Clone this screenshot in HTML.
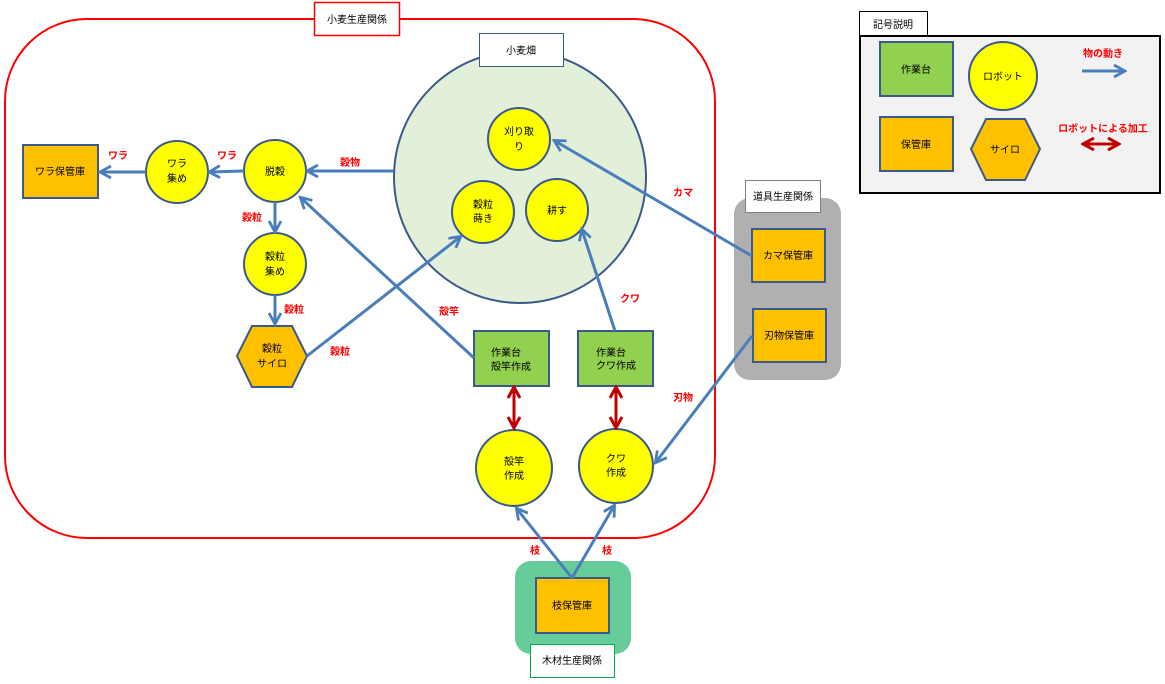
<!DOCTYPE html>
<html><head><meta charset="utf-8"><style>
html,body{margin:0;padding:0;background:#fff;}
svg{display:block;}
text{font-family:"Liberation Sans","Noto Sans CJK JP",sans-serif;font-size:10px;fill:#000;}
.r{fill:#ff0000;font-weight:bold;font-size:10px;}
.bl{stroke:#4a7ebb;stroke-width:3;fill:none;}
.rd{stroke:#c00000;stroke-width:3;fill:none;}
.nd{stroke:#3a5a8c;stroke-width:2;}
</style></head><body>
<svg width="1165" height="684" viewBox="0 0 1165 684" xmlns="http://www.w3.org/2000/svg">
<defs>
<marker id="a" markerWidth="14" markerHeight="14" refX="11" refY="7" orient="auto" markerUnits="userSpaceOnUse" viewBox="0 0 14 14">
<polyline points="1,1 12,7 1,13" fill="none" stroke="#4a7ebb" stroke-width="2.8"/></marker>
<marker id="ra" markerWidth="14" markerHeight="14" refX="11" refY="7" orient="auto-start-reverse" markerUnits="userSpaceOnUse" viewBox="0 0 14 14">
<polyline points="1,1 12,7 1,13" fill="none" stroke="#c00000" stroke-width="3"/></marker>
</defs>

<rect x="5" y="19" width="710" height="519" rx="82" ry="82" fill="none" stroke="#ff0000" stroke-width="2"/>
<rect x="314.5" y="2.5" width="85" height="33" fill="#fff" stroke="#ff0000" stroke-width="1.5"/>
<text x="357" y="23" text-anchor="middle">小麦生産関係</text>

<circle cx="520" cy="177" r="126" fill="#e2efd9" stroke="#3a5a8c" stroke-width="2"/>
<rect x="479.5" y="33.5" width="84" height="33" fill="#fff" stroke="#3a5a8c" stroke-width="1"/>
<text x="521" y="54" text-anchor="middle">小麦畑</text>

<circle class="nd" cx="519" cy="139" r="31" fill="#ffff00"/>
<text x="519" y="135" text-anchor="middle">刈り取</text><text x="519" y="150" text-anchor="middle">り</text>
<circle class="nd" cx="483" cy="212" r="31" fill="#ffff00"/>
<text x="483" y="208" text-anchor="middle">穀粒</text><text x="483" y="222" text-anchor="middle">蒔き</text>
<circle class="nd" cx="557" cy="210" r="31" fill="#ffff00"/>
<text x="557" y="214" text-anchor="middle">耕す</text>

<circle class="nd" cx="275" cy="171" r="31" fill="#ffff00"/>
<text x="275" y="175" text-anchor="middle">脱穀</text>
<circle class="nd" cx="177" cy="172" r="31" fill="#ffff00"/>
<text x="177" y="167" text-anchor="middle">ワラ</text><text x="177" y="182" text-anchor="middle">集め</text>
<rect class="nd" x="23" y="145" width="75" height="53" fill="#ffc000"/>
<text x="60" y="175" text-anchor="middle">ワラ保管庫</text>
<circle class="nd" cx="275" cy="264" r="31" fill="#ffff00"/>
<text x="275" y="260" text-anchor="middle">穀粒</text><text x="275" y="275" text-anchor="middle">集め</text>
<polygon class="nd" points="237,356 252,326 292,326 307,356 292,387 252,387" fill="#ffc000"/>
<text x="272" y="352" text-anchor="middle">穀粒</text><text x="272" y="367" text-anchor="middle">サイロ</text>

<rect class="nd" x="474" y="331" width="75" height="55" fill="#92d050"/>
<text x="491" y="356">作業台</text><text x="491" y="370">殻竿作成</text>
<rect class="nd" x="578" y="331" width="75" height="55" fill="#92d050"/>
<text x="596" y="356">作業台</text><text x="596" y="369">クワ作成</text>

<circle class="nd" cx="514" cy="468" r="38" fill="#ffff00"/>
<text x="514" y="465" text-anchor="middle">殻竿</text><text x="514" y="479" text-anchor="middle">作成</text>
<circle class="nd" cx="616" cy="466" r="37" fill="#ffff00"/>
<text x="616" y="462" text-anchor="middle">クワ</text><text x="616" y="476" text-anchor="middle">作成</text>

<rect x="515" y="561" width="116" height="93" rx="16" fill="#66cc99"/>
<rect class="nd" x="536" y="578" width="73" height="55" fill="#ffc000"/>
<text x="572" y="609" text-anchor="middle">枝保管庫</text>
<rect x="530.5" y="644.5" width="84" height="33" fill="#fff" stroke="#00b050" stroke-width="1"/>
<text x="572" y="664" text-anchor="middle">木材生産関係</text>

<rect x="734" y="198" width="107" height="182" rx="16" fill="#b0b0b0"/>
<rect x="745.5" y="180.5" width="75" height="32" fill="#fff" stroke="#808080" stroke-width="1"/>
<text x="783" y="200" text-anchor="middle">道具生産関係</text>
<rect class="nd" x="752" y="229" width="73" height="53" fill="#ffc000"/>
<text x="788" y="259" text-anchor="middle">カマ保管庫</text>
<rect class="nd" x="753" y="309" width="73" height="53" fill="#ffc000"/>
<text x="789" y="339" text-anchor="middle">刃物保管庫</text>

<line class="bl" x1="393" y1="171" x2="308" y2="171" marker-end="url(#a)"/>
<line class="bl" x1="244" y1="171" x2="210" y2="172" marker-end="url(#a)"/>
<line class="bl" x1="146" y1="172" x2="101" y2="172" marker-end="url(#a)"/>
<line class="bl" x1="275" y1="202" x2="275" y2="231" marker-end="url(#a)"/>
<line class="bl" x1="275" y1="295" x2="275" y2="323" marker-end="url(#a)"/>
<line class="bl" x1="307" y1="356" x2="460" y2="237" marker-end="url(#a)"/>
<line class="bl" x1="474" y1="358" x2="301" y2="198" marker-end="url(#a)"/>
<line class="bl" x1="615" y1="331" x2="582" y2="230" marker-end="url(#a)"/>
<line class="bl" x1="752" y1="256" x2="555" y2="141" marker-end="url(#a)"/>
<line class="bl" x1="752" y1="336" x2="656" y2="462" marker-end="url(#a)"/>
<line class="bl" x1="572" y1="578" x2="517" y2="509" marker-end="url(#a)"/>
<line class="bl" x1="572" y1="578" x2="614" y2="506" marker-end="url(#a)"/>
<line class="rd" x1="514" y1="388" x2="514" y2="427" marker-start="url(#ra)" marker-end="url(#ra)"/>
<line class="rd" x1="616" y1="388" x2="616" y2="427" marker-start="url(#ra)" marker-end="url(#ra)"/>

<text class="r" x="340" y="166">穀物</text>
<text class="r" x="217" y="159">ワラ</text>
<text class="r" x="108" y="159">ワラ</text>
<text class="r" x="242" y="221">穀粒</text>
<text class="r" x="284" y="313">穀粒</text>
<text class="r" x="330" y="355">穀粒</text>
<text class="r" x="439" y="315">殻竿</text>
<text class="r" x="620" y="302">クワ</text>
<text class="r" x="673" y="196">カマ</text>
<text class="r" x="673" y="401">刃物</text>
<text class="r" x="530" y="554">枝</text>
<text class="r" x="602" y="554">枝</text>

<rect x="859.5" y="11.5" width="68" height="25" fill="#fff" stroke="#000" stroke-width="1"/>
<text x="893" y="28" text-anchor="middle">記号説明</text>
<rect x="860" y="36" width="300" height="157" fill="#f2f2f2" stroke="#000" stroke-width="2"/>
<rect class="nd" x="880" y="42" width="73" height="54" fill="#92d050"/>
<text x="916" y="73" text-anchor="middle">作業台</text>
<circle class="nd" cx="1003" cy="76" r="34" fill="#ffff00"/>
<text x="1003" y="80" text-anchor="middle">ロボット</text>
<rect class="nd" x="880" y="117" width="73" height="54" fill="#ffc000"/>
<text x="916" y="148" text-anchor="middle">保管庫</text>
<polygon class="nd" points="971,149 986,119 1025,119 1040,149 1025,180 986,180" fill="#ffc000"/>
<text x="1005" y="153" text-anchor="middle">サイロ</text>
<text class="r" x="1103" y="57" text-anchor="middle">物の動き</text>
<line class="bl" x1="1082" y1="71" x2="1124" y2="71" marker-end="url(#a)"/>
<text class="r" x="1103" y="132" text-anchor="middle">ロボットによる加工</text>
<line class="rd" x1="1084" y1="144" x2="1118" y2="144" marker-start="url(#ra)" marker-end="url(#ra)"/>
</svg>
</body></html>
